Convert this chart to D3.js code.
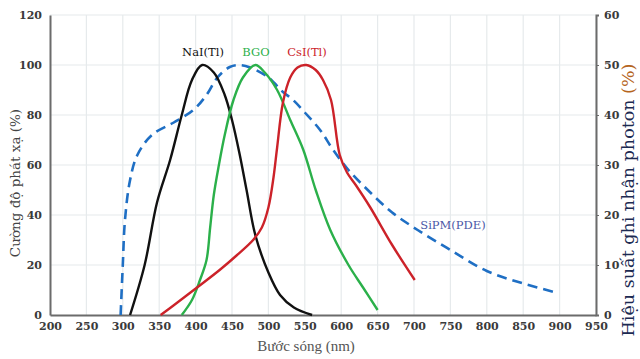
<!DOCTYPE html>
<html>
<head>
<meta charset="utf-8">
<script src="https://cdn.jsdelivr.net/npm/d3@7"></script>
<style>
  body { margin: 0; background: #fff; }
  text { font-family: "DejaVu Serif", "Liberation Serif", serif; }
</style>
</head>
<body>
<div id="chart"></div>
<script>
// Data (wavelength nm, value %)
var naI = [[310,0],[330,20],[347,45],[365,62],[381,80],[395,94],[409,100],[425,97],[440,88],[450,78],[460,65],[470,50],[482,32],[500,17],[516,8],[535,3],[560,0]];
var bgo = [[381,0],[395,6],[406,14],[415,22],[420,35],[425,48],[432,60],[440,72],[452,86],[465,95],[482,100],[495,97],[512,90],[530,78],[548,66],[565,50],[585,34],[610,20],[630,11],[650,2]];
var csI = [[352,0],[375,5],[402,11],[433,18],[457,24],[479,30],[491,35],[500,43],[507,55],[512,67],[520,85],[530,95],[540,99],[552,100],[565,98],[575,94],[586,86],[598,64],[608,57],[620,52],[640,43],[670,28],[701,14]];
var sipm = [[297,0],[300,10],[303,19],[310,27],[320,32],[340,36],[370,38.5],[397,41],[415,44],[430,47.5],[447,49.6],[460,50],[475,49.5],[500,47.5],[520,44.6],[534,43],[550,40.5],[571,37],[589,33],[610,29],[640,24.5],[670,20.5],[705,17],[750,13],[800,8.8],[850,6.3],[898,4.4]];

var xTicks = d3.range(200, 951, 50);
var yLeftTicks = [0, 20, 40, 60, 80, 100, 120];
var yRightTicks = [0, 10, 20, 30, 40, 50, 60];

var width = 640, height = 359;
var x0 = 50, x1 = 596, yTop = 15, yBot = 315;

var svg = d3.select("#chart").append("svg")
    .attr("width", width)
    .attr("height", height);

var x = d3.scaleLinear().domain([200, 950]).range([x0, x1]);
var yL = d3.scaleLinear().domain([0, 120]).range([yBot, yTop]);
var yR = d3.scaleLinear().domain([0, 60]).range([yBot, yTop]);

// grid
svg.append("g").selectAll("line.v")
    .data(xTicks.slice(1))
    .enter().append("line")
    .attr("x1", d => x(d)).attr("x2", d => x(d))
    .attr("y1", yTop).attr("y2", yBot)
    .attr("stroke", "#e6eaec").attr("stroke-width", 1.2);

svg.append("g").selectAll("line.h")
    .data(yLeftTicks.slice(1))
    .enter().append("line")
    .attr("x1", x0).attr("x2", x1)
    .attr("y1", d => yL(d)).attr("y2", d => yL(d))
    .attr("stroke", "#e6eaec").attr("stroke-width", 1.2);

// axes
var axisColor = "#6b6b6b";
var gL = svg.append("g").attr("transform", "translate(" + x0 + ",0)")
    .call(d3.axisLeft(yL).tickValues(yLeftTicks).tickSize(0).tickPadding(8));
var gB = svg.append("g").attr("transform", "translate(0," + yBot + ")")
    .call(d3.axisBottom(x).tickValues(xTicks).tickSize(0).tickPadding(7));
var gR = svg.append("g").attr("transform", "translate(" + x1 + ",0)")
    .call(d3.axisRight(yR).tickValues(yRightTicks).tickSize(3).tickPadding(5));

[gL, gB, gR].forEach(function (g) {
    g.select(".domain").attr("stroke", axisColor).attr("stroke-width", 2);
    g.selectAll(".tick line").attr("stroke", axisColor);
    g.selectAll("text")
        .attr("fill", "#3a3a3a")
        .style("font-family", "'DejaVu Serif', serif")
        .style("font-weight", "bold")
        .style("font-size", "11px");
});

// axis titles
svg.append("text")
    .attr("transform", "translate(20,183) rotate(-90)")
    .attr("text-anchor", "middle")
    .attr("fill", "#444")
    .style("font-size", "13.5px")
    .style("font-family", "'DejaVu Serif', serif")
    .text("Cường độ phát xạ (%)");

var rt = svg.append("text")
    .attr("transform", "translate(634,200) rotate(-90)")
    .attr("text-anchor", "middle")
    .attr("fill", "#1c2a52")
    .style("font-size", "17.5px")
    .style("font-family", "'DejaVu Serif', serif");
rt.append("tspan").text("Hiệu suất ghi nhận photon ");
rt.append("tspan").attr("fill", "#b5651d").text("(%)");

svg.append("text")
    .attr("x", 306).attr("y", 351)
    .attr("text-anchor", "middle")
    .attr("fill", "#555")
    .style("font-size", "15px")
    .style("font-family", "'Liberation Serif', serif")
    .text("Bước sóng (nm)");

// curves
var lineL = d3.line().x(d => x(d[0])).y(d => yL(d[1])).curve(d3.curveCatmullRom.alpha(0.5));
var lineR = d3.line().x(d => x(d[0])).y(d => yR(d[1])).curve(d3.curveCatmullRom.alpha(0.5));

svg.append("path").datum(sipm)
    .attr("d", lineR).attr("fill", "none")
    .attr("stroke", "#1f6fc4").attr("stroke-width", 2.6)
    .attr("stroke-dasharray", "10,6");

var series = [
    { data: naI, color: "#111111", label: "NaI(Tl)", lx: 203 },
    { data: bgo, color: "#2bb04a", label: "BGO", lx: 256 },
    { data: csI, color: "#cc2229", label: "CsI(Tl)", lx: 307 }
];

series.forEach(function (s) {
    svg.append("path").datum(s.data)
        .attr("d", lineL).attr("fill", "none")
        .attr("stroke", s.color).attr("stroke-width", 2.4)
        .attr("stroke-linejoin", "round");
    svg.append("text")
        .attr("x", s.lx).attr("y", 56)
        .attr("text-anchor", "middle")
        .attr("fill", s.color)
        .style("font-size", "11.5px")
        .style("font-family", "'DejaVu Serif', serif")
        .text(s.label);
});

svg.append("text")
    .attr("x", 453).attr("y", 229)
    .attr("text-anchor", "middle")
    .attr("fill", "#4a56a6")
    .style("font-size", "11.5px")
    .style("font-family", "'DejaVu Serif', serif")
    .text("SiPM(PDE)");
</script>
</body>
</html>
